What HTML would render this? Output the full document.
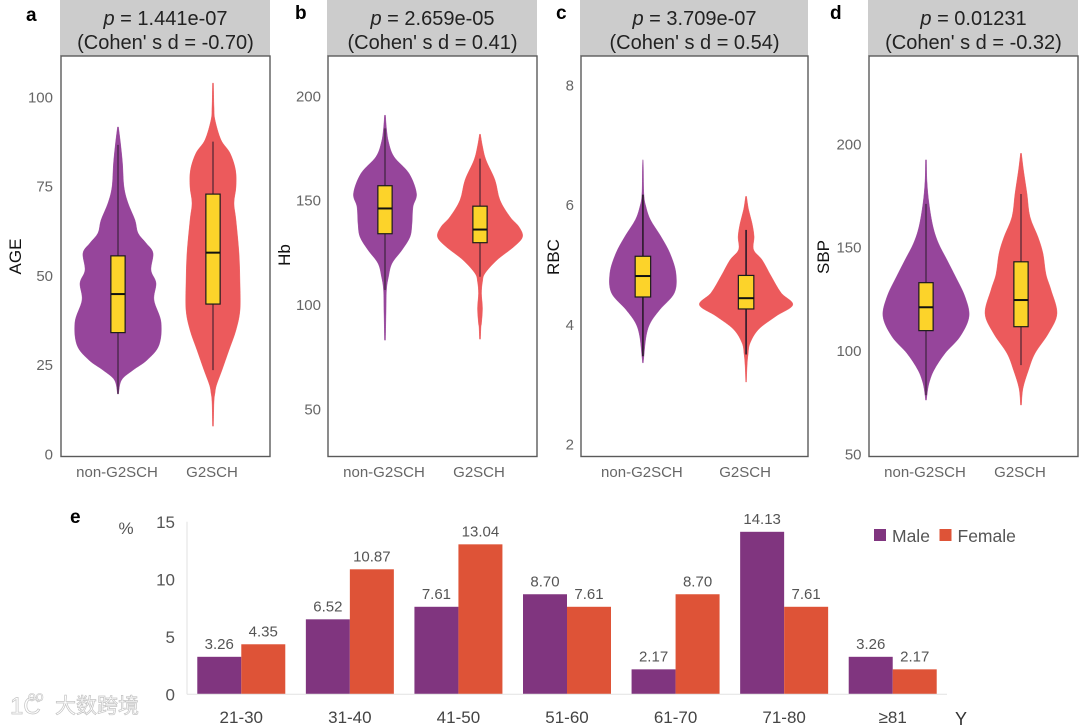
<!DOCTYPE html>
<html lang="en">
<head>
<meta charset="utf-8">
<title>Violin plots and age distribution</title>
<style>
html,body{margin:0;padding:0;background:#fff;}
#figure{display:block;width:1080px;height:725px;font-family:"Liberation Sans",sans-serif;filter:blur(0.3px);}
</style>
</head>
<body>
<svg id="figure" xmlns="http://www.w3.org/2000/svg" width="1080" height="725" viewBox="0 0 1080 725"></svg>
<script>
// ---------- Violin data (value grid, density, box stats: low whisker, q1, median, q3, high whisker) ----------
const violinCategories = ["non-G2SCH", "G2SCH"];

const aTicks = [0, 25, 50, 75, 100];
const aNonValues = [91.6, 87.1, 81.5, 74.8, 70.3, 65.5, 61.9, 59.1, 56.3, 51.5, 47.9, 43.1, 37, 30.5, 26.3, 23.5, 20.7, 16.8];
const aNonDensity = [0.005, 0.025, 0.045, 0.06, 0.10, 0.17, 0.20, 0.28, 0.35, 0.33, 0.38, 0.36, 0.43, 0.41, 0.29, 0.15, 0.035, 0.005];
const aNonBox = [16.8, 34, 44.8, 55.5, 86.6];
const aG2Values = [103.9, 97.2, 93.6, 88, 84.3, 79.6, 74.8, 70.3, 65.5, 56.3, 47.9, 40.3, 34.7, 29.1, 23.5, 19.3, 17.1, 14.6, 7.8];
const aG2Density = [0.005, 0.01, 0.02, 0.08, 0.17, 0.225, 0.23, 0.21, 0.23, 0.26, 0.27, 0.27, 0.23, 0.16, 0.09, 0.035, 0.02, 0.01, 0.005];
const aG2Box = [23.5, 42, 56.4, 72.8, 87.5];

const bTicks = [50, 100, 150, 200];
const bNonValues = [190.8, 184.5, 178, 170.9, 162.9, 153.3, 146.9, 138.9, 132.5, 126.2, 119.8, 113.4, 107, 95.8, 83];
const bNonDensity = [0.005, 0.015, 0.035, 0.09, 0.24, 0.315, 0.28, 0.27, 0.25, 0.17, 0.07, 0.035, 0.015, 0.01, 0.005];
const bNonBox = [107, 134, 146.1, 157, 184.5];
const bG2Values = [181.7, 176, 169.3, 159.7, 150.1, 142.1, 137.3, 132.5, 127.8, 121.4, 115, 111, 105.4, 98.2, 91, 89.4, 83.5];
const bG2Density = [0.005, 0.025, 0.06, 0.15, 0.2, 0.3, 0.39, 0.425, 0.34, 0.17, 0.05, 0.025, 0.015, 0.025, 0.015, 0.01, 0.005];
const bG2Box = [113.4, 129.7, 136, 147.2, 170];

const cTicks = [2, 4, 6, 8];
const cNonValues = [6.75, 6.61, 6.17, 5.97, 5.75, 5.47, 5.19, 4.86, 4.53, 4.25, 4.03, 3.81, 3.47, 3.36];
const cNonDensity = [0.002, 0.005, 0.01, 0.03, 0.075, 0.18, 0.27, 0.33, 0.315, 0.17, 0.075, 0.033, 0.01, 0.004];
const cNonBox = [3.47, 4.46, 4.81, 5.14, 6.17];
const cG2Values = [6.14, 5.92, 5.69, 5.47, 5.25, 5.08, 4.81, 4.53, 4.33, 4.14, 3.92, 3.69, 3.5, 3.31, 3.04];
const cG2Density = [0.005, 0.025, 0.06, 0.08, 0.075, 0.16, 0.25, 0.35, 0.467, 0.3, 0.125, 0.04, 0.02, 0.01, 0.004];
const cG2Box = [3.5, 4.26, 4.44, 4.82, 5.58];

const dTicks = [50, 100, 150, 200];
const dNonValues = [192.3, 181.8, 171.3, 160, 151.9, 143.9, 135.8, 126.1, 116.5, 106.8, 98.7, 90.6, 84.2, 78.5, 76.1];
const dNonDensity = [0.005, 0.01, 0.03, 0.07, 0.125, 0.21, 0.295, 0.39, 0.43, 0.34, 0.19, 0.08, 0.03, 0.01, 0.005];
const dNonBox = [78.5, 109.7, 121, 132.9, 171];
const dG2Values = [195.5, 187.4, 176, 164.8, 155, 147, 137, 129.4, 118, 108.4, 98.7, 90.6, 81.8, 73.7];
const dG2Density = [0.005, 0.025, 0.06, 0.09, 0.17, 0.22, 0.25, 0.3, 0.36, 0.275, 0.14, 0.075, 0.02, 0.005];
const dG2Box = [93, 111.6, 124.5, 143, 175.8];

const headerP = ["1.441e-07", "2.659e-05", "3.709e-07", "0.01231"];
const headerD = ["-0.70", "0.41", "0.54", "-0.32"];
const yTitles = ["AGE", "Hb", "RBC", "SBP"];

// ---------- Bar chart data ----------
const barCategories = ["21-30", "31-40", "41-50", "51-60", "61-70", "71-80", "≥81"];
const maleValues = [3.26, 6.52, 7.61, 8.70, 2.17, 14.13, 3.26];
const femaleValues = [4.35, 10.87, 13.04, 7.61, 8.70, 7.61, 2.17];
const barTicks = [0, 5, 10, 15];

// ---------- Helpers ----------
const svg = document.getElementById('figure');
const NS = 'http://www.w3.org/2000/svg';
function make(tag, attrs, parent, txt) {
  const el = document.createElementNS(NS, tag);
  for (const k in attrs) el.setAttribute(k, attrs[k]);
  if (txt !== undefined) el.textContent = txt;
  (parent || svg).appendChild(el);
  return el;
}
function linear(v0, p0, v1, p1) {
  return function (v) { return p0 + (v - v0) * (p1 - p0) / (v1 - v0); };
}
function smoothPath(pts) {
  let d = '';
  for (let i = 0; i < pts.length - 1; i++) {
    const p0 = pts[Math.max(i - 1, 0)], p1 = pts[i], p2 = pts[i + 1], p3 = pts[Math.min(i + 2, pts.length - 1)];
    const c1x = p1[0] + (p2[0] - p0[0]) / 6, c1y = p1[1] + (p2[1] - p0[1]) / 6;
    const c2x = p2[0] - (p3[0] - p1[0]) / 6, c2y = p2[1] - (p3[1] - p1[1]) / 6;
    d += ' C' + c1x.toFixed(2) + ' ' + c1y.toFixed(2) + ' ' + c2x.toFixed(2) + ' ' + c2y.toFixed(2) + ' ' + p2[0].toFixed(2) + ' ' + p2[1].toFixed(2);
  }
  return d;
}
const densityScale = function (d) { return d * 100; };

// ---------- Violin panels ----------
const panels = [
  { id: 'a', left: 61, right: 270, v0: 0, p0: 454, v1: 100, p1: 97, ticks: aTicks, labelX: 53, titleX: 21, titleY: 256.5, letterX: 26, letterY: 21,
    violins: [[aNonValues, aNonDensity, aNonBox], [aG2Values, aG2Density, aG2Box]] },
  { id: 'b', left: 328, right: 537, v0: 50, p0: 409, v1: 200, p1: 96, ticks: bTicks, labelX: 321, titleX: 290, titleY: 255, letterX: 295, letterY: 19,
    violins: [[bNonValues, bNonDensity, bNonBox], [bG2Values, bG2Density, bG2Box]] },
  { id: 'c', left: 581, right: 808, v0: 2, p0: 444.3, v1: 8, p1: 85, ticks: cTicks, labelX: 574, titleX: 559, titleY: 257, letterX: 556, letterY: 19,
    violins: [[cNonValues, cNonDensity, cNonBox], [cG2Values, cG2Density, cG2Box]] },
  { id: 'd', left: 869, right: 1078, v0: 50, p0: 454, v1: 200, p1: 144, ticks: dTicks, labelX: 861.5, titleX: 829, titleY: 257, letterX: 830, letterY: 19,
    violins: [[dNonValues, dNonDensity, dNonBox], [dG2Values, dG2Density, dG2Box]] }
];
const fills = ['#96459b', '#ec5a5c'];
const groupNames = ['non-g2sch', 'g2sch'];

panels.forEach(function (p, pi) {
  const g = make('g', {});
  
  
  const y = linear(p.v0, p.p0, p.v1, p.p1);
  const unit = (p.right - p.left) / 2.2;
  const x = function (i) { return p.left + (0.6 + i) * unit; };

  const strip = make('rect', { x: p.left - 1, y: 0, width: p.right - p.left + 1, height: 56, fill: '#cccccc' }, g);
  
  

  const midX = (p.left + p.right) / 2;
  const l1 = make('text', { x: midX, y: 25, 'text-anchor': 'middle', 'font-size': 20, fill: '#222' }, g);
  
  
  make('tspan', { 'font-style': 'italic' }, l1, 'p');
  make('tspan', {}, l1, ' = ' + headerP[pi]);
  const l2 = make('text', { x: midX, y: 49, 'text-anchor': 'middle', 'font-size': 20, fill: '#222' }, g, "(Cohen' s d = " + headerD[pi] + ')');
  
  

  const letter = make('text', { x: p.letterX, y: p.letterY, 'font-size': 19, 'font-weight': 'bold', fill: '#000' }, g, p.id);
  
  

  const title = make('text', { x: p.titleX, y: p.titleY, 'text-anchor': 'middle', 'font-size': 17, fill: '#111', transform: 'rotate(-90 ' + p.titleX + ' ' + p.titleY + ')' }, g, yTitles[pi]);
  
  

  p.ticks.forEach(function (t) {
    const tl = make('text', { x: p.labelX, y: y(t) + 5.3, 'text-anchor': 'end', 'font-size': 15, fill: '#666' }, g, String(t));
    
    
  });

  p.violins.forEach(function (v, i) {
    const values = v[0], density = v[1], box = v[2];
    const cx = x(i);
    const rightSide = values.map(function (val, k) { return [cx + densityScale(density[k]), y(val)]; });
    const leftSide = values.map(function (val, k) { return [cx - densityScale(density[k]), y(val)]; }).reverse();
    const d = 'M' + rightSide[0][0].toFixed(2) + ' ' + rightSide[0][1].toFixed(2) + smoothPath(rightSide) +
      ' L' + leftSide[0][0].toFixed(2) + ' ' + leftSide[0][1].toFixed(2) + smoothPath(leftSide) + ' Z';
    const shape = make('path', { d: d, fill: fills[i], stroke: fills[i], 'stroke-width': 0.4 }, g);
    
    

    const whisker = make('line', { x1: cx, x2: cx, y1: y(box[0]), y2: y(box[4]), stroke: '#2a1a2a', 'stroke-width': p.id === 'c' ? 1.6 : 1 }, g);
    
    

    const hw = unit * 0.075;
    const rect = make('rect', { x: cx - hw, y: y(box[3]), width: hw * 2, height: y(box[1]) - y(box[3]), fill: '#fcd32a', stroke: '#1c1c1c', 'stroke-width': 1.2 }, g);
    
    

    const med = make('line', { x1: cx - hw, x2: cx + hw, y1: y(box[2]), y2: y(box[2]), stroke: '#111', 'stroke-width': 2 }, g);
    
    

    const cat = make('text', { x: cx - 1, y: 477, 'text-anchor': 'middle', 'font-size': 15, fill: '#666' }, g, violinCategories[i]);
    
    
  });

  const frame = make('rect', { x: p.left, y: 56, width: p.right - p.left, height: 400.5, fill: 'none', stroke: '#5a5a5a', 'stroke-width': 1.4 }, g);
  
  
});

// ---------- Bar chart ----------
const barGroup = make('g', {});



const barLeft = 187, barRight = 947;
const barY = linear(0, 694.3, 15, 521.8);
const band = (barRight - barLeft) / barCategories.length;
const bandX = function (i) { return barLeft + band * (i + 0.5); };
const barW = 44;

const eLetter = make('text', { x: 70, y: 523, 'font-size': 19, 'font-weight': 'bold', fill: '#000' }, barGroup, 'e');



const yAxisLine = make('line', { x1: barLeft, x2: barLeft, y1: barY(15), y2: barY(0), stroke: '#e2e2e2', 'stroke-width': 1 }, barGroup);



barTicks.forEach(function (t) {
  const tl = make('text', { x: 175, y: barY(t) + 6, 'text-anchor': 'end', 'font-size': 17, fill: '#555' }, barGroup, String(t));
  
  
});

const pct = make('text', { x: 126, y: 534, 'text-anchor': 'middle', 'font-size': 17, fill: '#555' }, barGroup, '%');



barCategories.forEach(function (c, i) {
  const cx = bandX(i);
  const mv = maleValues[i], fv = femaleValues[i];
  const m = make('rect', { x: cx - barW, y: barY(mv), width: barW, height: barY(0) - barY(mv), fill: '#80357f' }, barGroup);
  
  
  const f = make('rect', { x: cx, y: barY(fv), width: barW, height: barY(0) - barY(fv), fill: '#de5337' }, barGroup);
  
  
  const ml = make('text', { x: cx - barW / 2, y: barY(mv) - 8, 'text-anchor': 'middle', 'font-size': 15, fill: '#555' }, barGroup, mv.toFixed(2));
  
  
  const fl = make('text', { x: cx + barW / 2, y: barY(fv) - 8, 'text-anchor': 'middle', 'font-size': 15, fill: '#555' }, barGroup, fv.toFixed(2));
  
  
  const cl = make('text', { x: cx, y: 723, 'text-anchor': 'middle', 'font-size': 17, fill: '#444' }, barGroup, c);
  
  
});

const xAxisLine = make('line', { x1: barLeft, x2: barRight, y1: barY(0), y2: barY(0), stroke: '#e2e2e2', 'stroke-width': 1 }, barGroup);



const yUnit = make('text', { x: 961, y: 725, 'text-anchor': 'middle', 'font-size': 18, fill: '#333' }, barGroup, 'Y');



// ---------- Legend ----------
const legendMaleSwatch = make('rect', { x: 874, y: 529, width: 12, height: 12, fill: '#80357f' }, barGroup);


const legendMaleText = make('text', { x: 892, y: 542, 'font-size': 17.5, fill: '#555' }, barGroup, 'Male');


const legendFemaleSwatch = make('rect', { x: 939.5, y: 529, width: 12, height: 12, fill: '#de5337' }, barGroup);


const legendFemaleText = make('text', { x: 957.5, y: 542, 'font-size': 17.5, fill: '#555' }, barGroup, 'Female');



// ---------- Watermark ----------
const wmLogo = make('text', { x: 10, y: 714, 'font-size': 24, fill: '#fff', stroke: '#c4c4c4', 'stroke-width': 0.7 }, svg, '1C');


const wmLogoSmall = make('text', { x: 28, y: 701, 'font-size': 14, fill: '#fff', stroke: '#c4c4c4', 'stroke-width': 0.6 }, svg, 'oo');


const wmText = make('text', { x: 55, y: 713, 'font-size': 21, 'font-family': '"Liberation Sans","Noto Sans CJK SC",sans-serif', fill: '#fff', stroke: '#c4c4c4', 'stroke-width': 0.7 }, svg, '大数跨境');


</script>
</body>
</html>
